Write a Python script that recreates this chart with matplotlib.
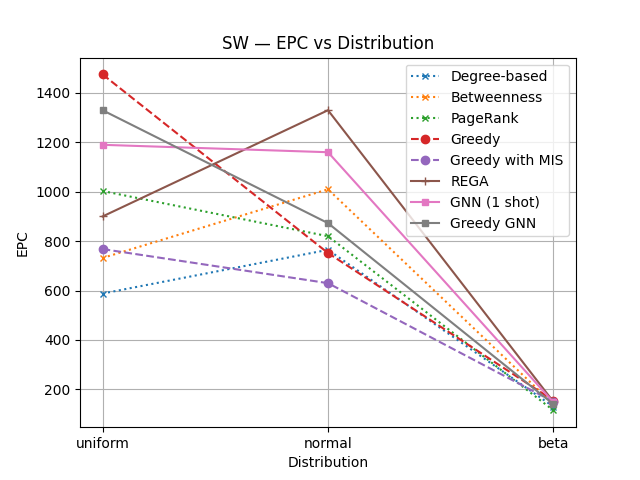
import matplotlib
matplotlib.use('Agg')
import matplotlib.pyplot as plt

distributions = ['uniform', 'normal', 'beta']

degree_based = [588, 765, 130]
betweenness = [732, 1010, 140]
pagerank = [1003, 820, 115]
greedy = [1475, 752, 155]
greedy_mis = [768, 630, 150]
rega = [900, 1330, 150]
gnn_one_shot = [1190, 1160, 148]
greedy_gnn = [1330, 873, 140]

series = [
    ('Degree-based', degree_based, 'tab:blue', ':', 'x', 5),
    ('Betweenness', betweenness, 'tab:orange', ':', 'x', 5),
    ('PageRank', pagerank, 'tab:green', ':', 'x', 5),
    ('Greedy', greedy, 'tab:red', '--', 'o', 6),
    ('Greedy with MIS', greedy_mis, 'tab:purple', '--', 'o', 6),
    ('REGA', rega, 'tab:brown', '-', '+', 6),
    ('GNN (1 shot)', gnn_one_shot, 'tab:pink', '-', 's', 5),
    ('Greedy GNN', greedy_gnn, 'tab:gray', '-', 's', 5),
]

fig, ax = plt.subplots(figsize=(6.4, 4.8), dpi=100)
for label, vals, color, ls, marker, ms in series:
    ax.plot(distributions, vals, label=label, color=color, linestyle=ls,
            marker=marker, markersize=ms)

ax.set_title('SW — EPC vs Distribution')
ax.set_xlabel('Distribution')
ax.set_ylabel('EPC')
ax.grid(True)
ax.legend(loc='upper right')

fig.savefig('out.png')
